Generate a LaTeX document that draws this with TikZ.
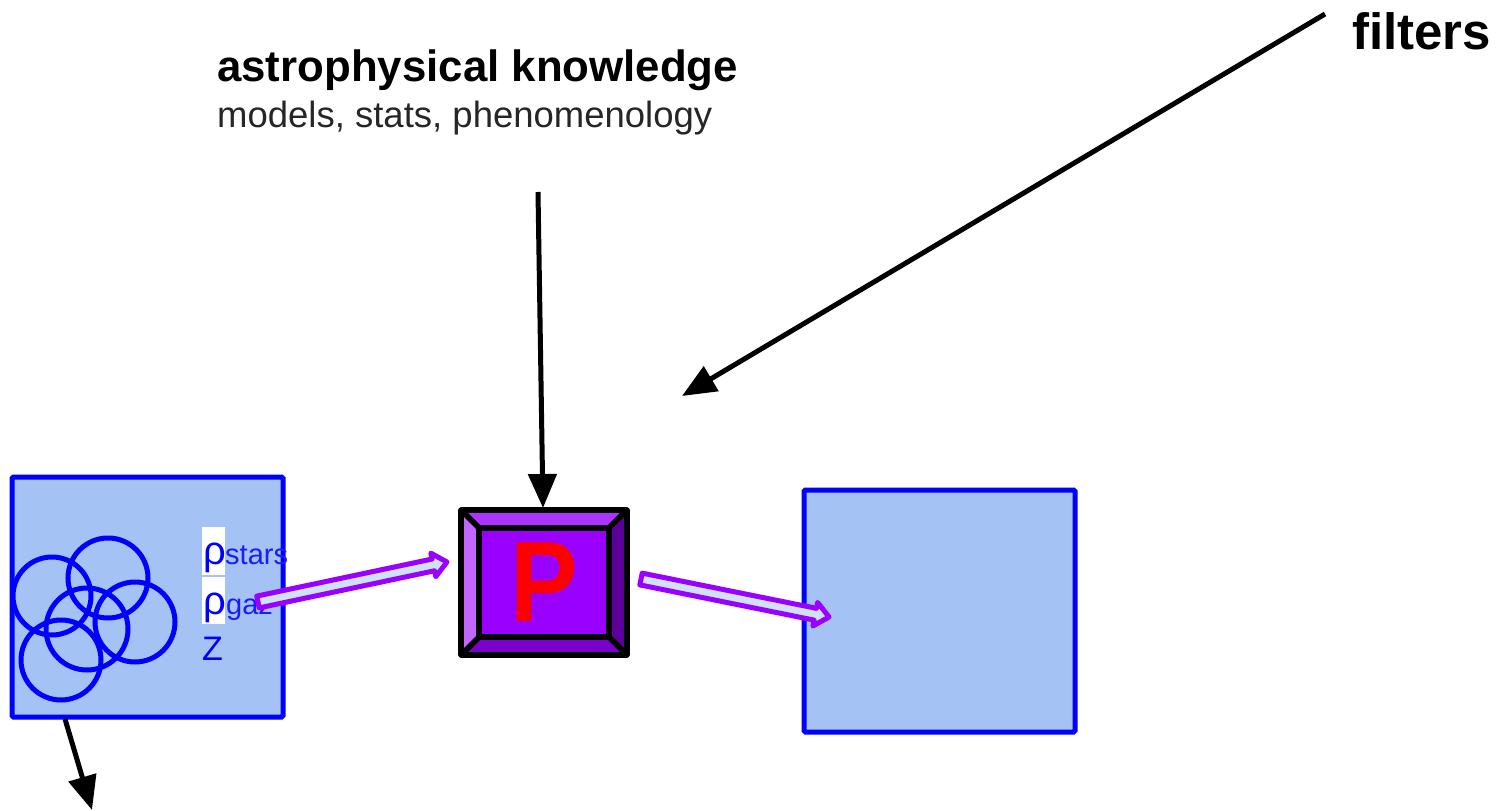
\documentclass[tikz,border=0pt]{standalone}
\usepackage{fontspec}
\setmainfont{Liberation Sans}
\usetikzlibrary{arrows.meta,calc}
\definecolor{boxfill}{HTML}{A4C2F4}
\definecolor{boxline}{HTML}{0000FF}
\definecolor{pmain}{HTML}{9900FF}
\definecolor{ptop}{HTML}{AD33FF}
\definecolor{pleft}{HTML}{C266FF}
\definecolor{pright}{HTML}{5C0099}
\definecolor{pbottom}{HTML}{7A00CC}
\definecolor{shaftfill}{HTML}{CFE2F3}
\tikzset{
  panel/.style={draw=boxline,fill=boxfill,line width=5pt,rounded corners=1.5pt},
  bevel/.style={draw=black,line width=5.6pt,line join=round},
  ring/.style={draw=boxline,line width=5pt},
  blackarrow/.style={draw=black,line width=5pt,-{Triangle[length=34pt,width=28pt]}},
  blockarrow/.style={draw=pmain,fill=shaftfill,line width=5pt,line join=round},
  lbl/.style={inner sep=0pt,anchor=base west},
  sym/.style={lbl,text=boxline},
  highlight/.style={fill=white,draw=none}
}
\newcommand{\blockarrow}[2]{%
  \coordinate (h) at ($(#2)!14pt!(#1)$);
  \draw[blockarrow] ($(#1)!6pt!90:(#2)$) -- ($(h)!6pt!90:(#2)$) -- ($(h)!12pt!90:(#2)$) -- (#2)
    -- ($(h)!12pt!-90:(#2)$) -- ($(h)!6pt!-90:(#2)$) -- ($(#1)!6pt!-90:(#2)$) -- cycle;}
\begin{document}
\begin{tikzpicture}[x=1pt,y=-1pt]
\useasboundingbox (0,0) rectangle (1497,811);
% left panel
\draw[panel] (12,477) rectangle (283,717);
\coordinate (leftbottom) at (65,719);
\foreach \n/\x/\y/\r in {a/52/596/39,b/108/578/40,c/135/622/40,d/87/629/41,e/61/660/40}
  \node[ring,circle,minimum size={2*\r pt},inner sep=0pt] (ring\n) at (\x,\y) {};
\fill[highlight] (202,527) rectangle (225,575);
\fill[highlight] (202,577) rectangle (225,624);
\node[sym,font=\fontsize{40}{44}\selectfont] (rho1) at (203,564) {ρ};
\node[sym,font=\fontsize{29}{32}\selectfont,text=boxline!85!boxfill] (stars) at (225,564) {stars};
\node[sym,font=\fontsize{40}{44}\selectfont] (rho2) at (203,614) {ρ};
\node[sym,font=\fontsize{29}{32}\selectfont,text=boxline!85!boxfill] (gaz) at (226,614) {gaz};
\node[sym,font=\fontsize{34}{40}\selectfont] (zed) at (202,660) {Z};
% right panel
\draw[panel] (804,490) rectangle (1075,732);
% P key
\coordinate (o1) at (461,510); \coordinate (o2) at (627,510);
\coordinate (o3) at (627,655); \coordinate (o4) at (461,655);
\coordinate (i1) at (479,528); \coordinate (i2) at (609,528);
\coordinate (i3) at (609,637); \coordinate (i4) at (479,637);
\draw[bevel,fill=ptop] (o1) -- (o2) -- (i2) -- (i1) -- cycle;
\draw[bevel,fill=pright] (o2) -- (o3) -- (i3) -- (i2) -- cycle;
\draw[bevel,fill=pbottom] (o3) -- (o4) -- (i4) -- (i3) -- cycle;
\draw[bevel,fill=pleft] (o4) -- (o1) -- (i1) -- (i4) -- cycle;
\draw[bevel,fill=pmain] (i1) -- (i2) -- (i3) -- (i4) -- cycle;
\node[inner sep=0pt,anchor=base,text=red,font=\fontsize{110}{120}\bfseries] (pkey) at (544,621) {\scalebox{.92}[1.04]{P}};
% texts
\node[lbl,font=\fontsize{43.8}{48}\selectfont\bfseries] (astro) at (217,81) {astrophysical knowledge};
\node[lbl,text=black!85,font=\fontsize{36.5}{40}\selectfont] (models) at (217,127) {models, stats, phenomenology};
\node[lbl,font=\fontsize{51}{54}\selectfont\bfseries] (filters) at (1352,49) {filters};
% black arrows
\coordinate (kstart) at (538,192);
\coordinate (ktop) at (543,508);
\draw[blackarrow] (kstart) -- (ktop);
\coordinate (fstart) at (1325,14);
\coordinate (fend) at (682,396);
\draw[blackarrow] (fstart) -- (fend);
\coordinate (dend) at (92,810);
\draw[blackarrow] (leftbottom) -- (dend);
% block arrows
\coordinate (la) at (258,602); \coordinate (lb) at (447,562);
\coordinate (ra) at (641,579); \coordinate (rb) at (829,617);
\blockarrow{la}{lb}
\blockarrow{ra}{rb}
\end{tikzpicture}
\end{document}
